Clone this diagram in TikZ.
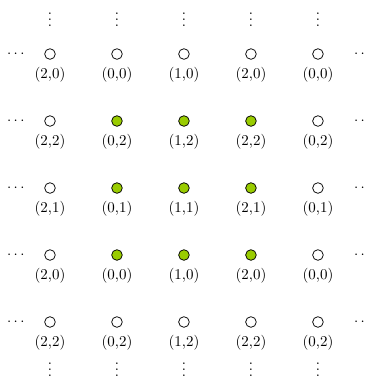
\documentclass[tikz,border=0pt]{standalone}
\usepackage{amsmath,amssymb}
\usepackage{xcolor}
\usetikzlibrary{positioning}
\definecolor{cellgreen}{HTML}{99CC00}
\tikzset{
  site/.style={circle, draw=black, fill=#1, minimum size=0.25cm, inner sep=0pt, line width=0.5pt},
  site/.default={white},
  lab/.style={inner sep=1pt},
}
\begin{document}
\begin{tikzpicture}[x=1.575cm, y=1.575cm]
\useasboundingbox (-1.175cm,1.27cm) rectangle (7.45cm,-7.64cm);
% lattice sites
\foreach \i in {0,...,4} {
  \foreach \j in {0,...,4} {
    \pgfmathtruncatemacro{\a}{mod(\i+2,3)}
    \pgfmathtruncatemacro{\b}{mod(6-\j,3)}
    \pgfmathtruncatemacro{\inner}{(\i>0)*(\i<4)*(\j>0)*(\j<4)}
    \ifnum\inner=1
      \node[site=cellgreen] (s\i\j) at (\i,-\j) {};
    \else
      \node[site] (s\i\j) at (\i,-\j) {};
    \fi
    \node[lab, below=0.13cm of s\i\j] (l\i\j) {(\a,\b)};
  }
}
% continuation dots
\foreach \i in {0,...,4} {
  \node (up\i) [above=0.51cm of s\i0, anchor=base] {$\vdots$};
  \node (dn\i) [below=1.14cm of s\i4, anchor=base] {$\vdots$};
}
\foreach \j in {0,...,4} {
  \node (lt\j) [left=0.64cm of s0\j, anchor=center] {$\cdots$};
  \node (rt\j) [right=0.95cm of s4\j, anchor=center] {$\cdots$};
}
\end{tikzpicture}
\end{document}
